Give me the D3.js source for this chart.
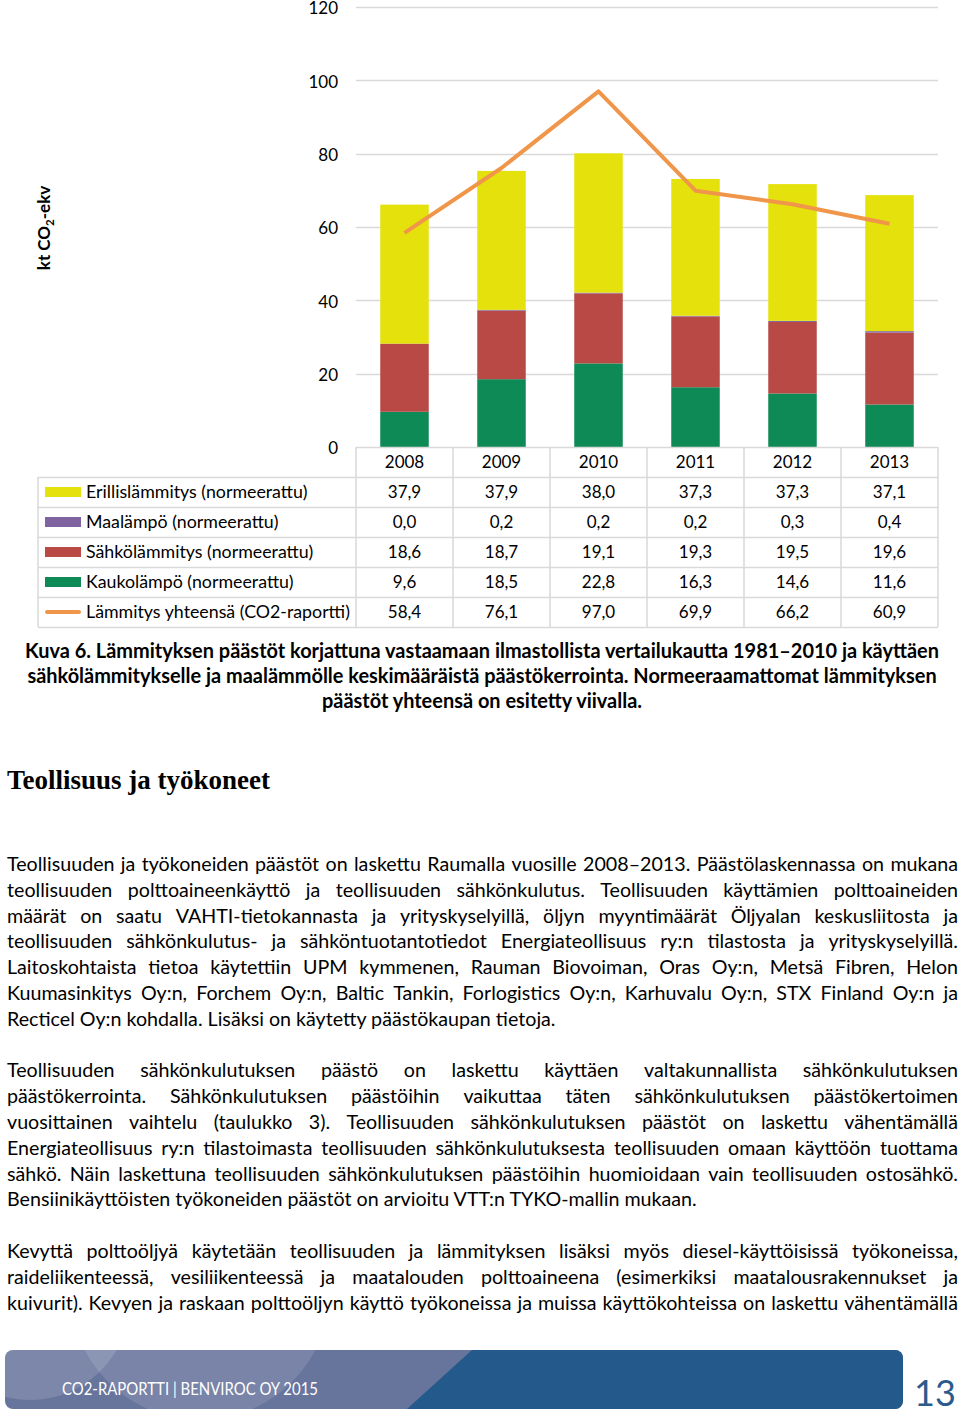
<!DOCTYPE html>
<html><head><meta charset="utf-8">
<script src="https://cdn.jsdelivr.net/npm/d3@7"></script>
<style>body{margin:0;background:#fff}svg{display:block}</style>
</head><body><svg id="c" width="960" height="1414"></svg>
<script>
const years = ["2008","2009","2010","2011","2012","2013"];
const seriesNames = ["Erillislämmitys (normeerattu)","Maalämpö (normeerattu)","Sähkölämmitys (normeerattu)","Kaukolämpö (normeerattu)","Lämmitys yhteensä (CO2-raportti)"];
const erillis = [37.9,37.9,38.0,37.3,37.3,37.1];
const maa = [0.0,0.2,0.2,0.2,0.3,0.4];
const sahko = [18.6,18.7,19.1,19.3,19.5,19.6];
const kauko = [9.6,18.5,22.8,16.3,14.6,11.6];
const yhteensa = [58.4,76.1,97.0,69.9,66.2,60.9];
const yTicks = [0,20,40,60,80,100,120];

const caption = [
 "Kuva 6. Lämmityksen päästöt korjattuna vastaamaan ilmastollista vertailukautta 1981–2010 ja käyttäen",
 "sähkölämmitykselle ja maalämmölle keskimääräistä päästökerrointa. Normeeraamattomat lämmityksen",
 "päästöt yhteensä on esitetty viivalla."];
const heading = "Teollisuus ja työkoneet";
const para1 = [
 "Teollisuuden ja työkoneiden päästöt on laskettu Raumalla vuosille 2008–2013. Päästölaskennassa on mukana",
 "teollisuuden polttoaineenkäyttö ja teollisuuden sähkönkulutus. Teollisuuden käyttämien polttoaineiden",
 "määrät on saatu VAHTI-tietokannasta ja yrityskyselyillä, öljyn myyntimäärät Öljyalan keskusliitosta ja",
 "teollisuuden sähkönkulutus- ja sähköntuotantotiedot Energiateollisuus ry:n tilastosta ja yrityskyselyillä.",
 "Laitoskohtaista tietoa käytettiin UPM kymmenen, Rauman Biovoiman, Oras Oy:n, Metsä Fibren, Helon",
 "Kuumasinkitys Oy:n, Forchem Oy:n, Baltic Tankin, Forlogistics Oy:n, Karhuvalu Oy:n, STX Finland Oy:n ja",
 "Recticel Oy:n kohdalla. Lisäksi on käytetty päästökaupan tietoja."];
const para2 = [
 "Teollisuuden sähkönkulutuksen päästö on laskettu käyttäen valtakunnallista sähkönkulutuksen",
 "päästökerrointa. Sähkönkulutuksen päästöihin vaikuttaa täten sähkönkulutuksen päästökertoimen",
 "vuosittainen vaihtelu (taulukko 3). Teollisuuden sähkönkulutuksen päästöt on laskettu vähentämällä",
 "Energiateollisuus ry:n tilastoimasta teollisuuden sähkönkulutuksesta teollisuuden omaan käyttöön tuottama",
 "sähkö. Näin laskettuna teollisuuden sähkönkulutuksen päästöihin huomioidaan vain teollisuuden ostosähkö.",
 "Bensiinikäyttöisten työkoneiden päästöt on arvioitu VTT:n TYKO-mallin mukaan."];
const para3 = [
 "Kevyttä polttoöljyä käytetään teollisuuden ja lämmityksen lisäksi myös diesel-käyttöisissä työkoneissa,",
 "raideliikenteessä, vesiliikenteessä ja maatalouden polttoaineena (esimerkiksi maatalousrakennukset ja",
 "kuivurit). Kevyen ja raskaan polttoöljyn käyttö työkoneissa ja muissa käyttökohteissa on laskettu vähentämällä"];
const footerText = "CO2-RAPORTTI | BENVIROC OY 2015";
const pageNo = "13";

const FONT = "Lato, 'Open Sans', sans-serif";
const colors = {erillis:"#E5E10C", maa:"#7F63A1", sahko:"#B84945", kauko:"#0E8A56", line:"#F0964A"};
const svg = d3.select("#c");
svg.append("rect").attr("width",960).attr("height",1414).attr("fill","#fff");

// scales
const x = d3.scaleBand().domain(years).range([356,938]).paddingInner(0.5).paddingOuter(0.25);
const y = d3.scaleLinear().domain([0,120]).range([447,7]);
const step = x.step();
const colLeft = d => x(d) - (step - x.bandwidth())/2;

// grid
svg.append("g").selectAll("line").data(yTicks.filter(t=>t>0)).join("line")
  .attr("x1",356).attr("x2",938).attr("y1",d=>Math.round(y(d))+0.5).attr("y2",d=>Math.round(y(d))+0.5)
  .attr("stroke","#D9D9D9").attr("stroke-width",1.5);
// y axis labels via axis
const yAxis = svg.append("g").attr("transform","translate(346,1)")
  .call(d3.axisLeft(y).tickValues(yTicks).tickSize(0).tickPadding(8));
yAxis.select(".domain").remove();
yAxis.selectAll("text").attr("font-family",FONT).attr("font-size",17).attr("fill","#000").attr("dy","0.35em");

// y label
const yl = svg.append("text").attr("transform","translate(50,228) rotate(-90)")
  .attr("text-anchor","middle").attr("font-family",FONT).attr("font-weight","bold").attr("font-size",17).attr("fill","#000");
yl.append("tspan").text("kt CO");
yl.append("tspan").text("2").attr("font-size",11.5).attr("dy",4);
yl.append("tspan").text("-ekv").attr("dy",-4);

// stacked bars
const rows = years.map((yr,i)=>({year:yr, kauko:kauko[i], sahko:sahko[i], maa:maa[i], erillis:erillis[i]}));
const stack = d3.stack().keys(["kauko","sahko","maa","erillis"])(rows);
svg.append("g").selectAll("g").data(stack).join("g").attr("fill",d=>colors[d.key])
  .selectAll("rect").data(d=>d).join("rect")
  .attr("x",d=>x(d.data.year)).attr("width",x.bandwidth())
  .attr("y",d=>y(d[1])).attr("height",d=>y(d[0])-y(d[1]));

// line
svg.append("path").datum(yhteensa)
  .attr("d",d3.line().x((d,i)=>x(years[i])+x.bandwidth()/2).y(d=>y(d)))
  .attr("fill","none").attr("stroke",colors.line).attr("stroke-width",4).attr("stroke-linejoin","round");

// data table
const tableSeries = [erillis, maa, sahko, kauko, yhteensa];
const keyColors = [colors.erillis, colors.maa, colors.sahko, colors.kauko, colors.line];
const rowTop = 477, rowH = 30, headTop = 447;
const fmt = v => d3.format(".1f")(v).replace(".",",");
const tg = svg.append("g");
const gridC = "#D9D9D9";
tg.append("line").attr("x1",356).attr("x2",938).attr("y1",headTop+0.5).attr("y2",headTop+0.5).attr("stroke",gridC).attr("stroke-width",1.5);
const vxs = years.map(colLeft).concat([938]);
tg.selectAll(".vh").data(vxs).join("line").attr("x1",d=>d).attr("x2",d=>d).attr("y1",headTop).attr("y2",rowTop+rowH*5).attr("stroke",gridC).attr("stroke-width",1.5);
tg.append("line").attr("x1",38).attr("x2",38).attr("y1",rowTop).attr("y2",rowTop+rowH*5).attr("stroke",gridC).attr("stroke-width",1.5);
tg.selectAll(".hh").data(d3.range(6)).join("line").attr("x1",38).attr("x2",938)
  .attr("y1",d=>rowTop+d*rowH+0.5).attr("y2",d=>rowTop+d*rowH+0.5).attr("stroke",gridC).attr("stroke-width",1.5);
tg.selectAll(".yr").data(years).join("text").attr("x",d=>x(d)+x.bandwidth()/2).attr("y",headTop+rowH/2+6)
  .attr("text-anchor","middle").attr("font-family",FONT).attr("font-size",17).attr("fill","#000").text(d=>d);
seriesNames.forEach((name,r)=>{
  const cy = rowTop + r*rowH + rowH/2;
  if (r<4) tg.append("rect").attr("x",45).attr("y",cy-5).attr("width",36).attr("height",10).attr("fill",keyColors[r]);
  else tg.append("line").attr("x1",47).attr("x2",79).attr("y1",cy).attr("y2",cy).attr("stroke",keyColors[r]).attr("stroke-width",4).attr("stroke-linecap","round");
  tg.append("text").attr("x",86).attr("y",cy+6).attr("font-family",FONT).attr("font-size",17.8).attr("fill","#000").text(name);
  tg.selectAll(null).data(tableSeries[r]).join("text").attr("x",(d,i)=>x(years[i])+x.bandwidth()/2).attr("y",cy+6)
    .attr("text-anchor","middle").attr("font-family",FONT).attr("font-size",17).attr("fill","#000").text(d=>fmt(d));
});

// caption
const capG = svg.append("g");
const capProbe = capG.append("text").attr("font-family",FONT).attr("font-weight","bold").attr("font-size",18).text(caption[0]);
const capSize = 18*915/capProbe.node().getComputedTextLength();
capProbe.remove();
caption.forEach((t,i)=>capG.append("text").attr("x",482).attr("y",658+i*25).attr("text-anchor","middle")
  .attr("font-family",FONT).attr("font-weight","bold").attr("font-size",capSize).attr("fill","#000").text(t));

// heading
svg.append("text").attr("x",7).attr("y",789).attr("font-family","'Liberation Serif','Times New Roman',serif")
  .attr("font-weight","bold").attr("font-size",27).attr("fill","#000").text(heading);

// body text
const bodyG = svg.append("g").attr("font-family",FONT).attr("fill","#000");
const probe = bodyG.append("text").attr("font-size",18).text(para1[6]);
const bodySize = 18*549/probe.node().getComputedTextLength();
probe.remove();
bodyG.attr("font-size",bodySize);
const X0 = 7, W = 951;
function drawLine(text, yb, justify){
  if (!justify){
    const t = bodyG.append("text").attr("x",X0).attr("y",yb).text(text);
    if (t.node().getComputedTextLength() > W) t.attr("textLength",W).attr("lengthAdjust","spacingAndGlyphs");
    return;
  }
  const words = text.split(" ");
  const nodes = words.map(w=>bodyG.append("text").attr("y",yb).text(w));
  const widths = nodes.map(n=>n.node().getComputedTextLength());
  const sum = d3.sum(widths);
  let gap = (W - sum)/(words.length-1);
  let scale = 1;
  if (gap < 3){ gap = 3; scale = (W - gap*(words.length-1))/sum; }
  let cx = X0;
  nodes.forEach((n,i)=>{
    n.attr("x",cx);
    if (scale!==1) n.attr("textLength",widths[i]*scale).attr("lengthAdjust","spacingAndGlyphs");
    cx += widths[i]*scale + gap;
  });
}
const LH = 25.8, B0 = 871;
para1.forEach((t,i)=>drawLine(t, B0+i*LH, i<para1.length-1));
para2.forEach((t,i)=>drawLine(t, B0+(8+i)*LH, i<para2.length-1));
para3.forEach((t,i)=>drawLine(t, B0+(15+i)*LH, true));

// footer
const defs = svg.append("defs");
defs.append("clipPath").attr("id","fclip").append("rect").attr("x",5).attr("y",1350).attr("width",898).attr("height",59).attr("rx",8);
const fg = svg.append("g").attr("clip-path","url(#fclip)");
fg.append("rect").attr("x",5).attr("y",1350).attr("width",898).attr("height",59).attr("fill","#67749C");
fg.append("circle").attr("cx",30).attr("cy",1300).attr("r",100).attr("fill","#fff").attr("opacity",0.14);
fg.append("circle").attr("cx",200).attr("cy",1290).attr("r",130).attr("fill","#fff").attr("opacity",0.12);
fg.append("path").attr("d","M472,1350 L903,1350 L903,1409 L407,1409 Z").attr("fill","#245A8B");
svg.append("text").attr("x",62).attr("y",1395).attr("font-family",FONT).attr("font-size",18).attr("fill","#fff")
  .attr("textLength",256).attr("lengthAdjust","spacingAndGlyphs").text(footerText);
svg.append("text").attr("x",914).attr("y",1406).attr("font-family",FONT).attr("font-size",36).attr("fill","#2B5B8C").text(pageNo);
</script></body></html>
